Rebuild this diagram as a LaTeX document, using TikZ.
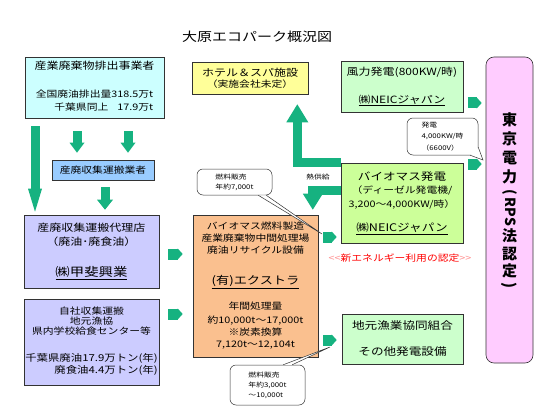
\documentclass[tikz,border=0pt]{standalone}
\usepackage{fontspec}
\setmainfont{Noto Sans CJK JP}[FakeStretch=1.2]
\newfontfamily\tatefont{Noto Sans CJK JP}
\usetikzlibrary{arrows.meta}

\definecolor{arrowgreen}{RGB}{22,178,128}
\definecolor{srccyan}{RGB}{204,255,255}
\definecolor{haulblue}{RGB}{153,204,255}
\definecolor{agentlilac}{RGB}{204,204,255}
\definecolor{plantorange}{RGB}{250,192,143}
\definecolor{windmint}{RGB}{204,255,204}
\definecolor{biolime}{RGB}{204,255,153}
\definecolor{hotelyellow}{RGB}{255,255,153}
\definecolor{tepcopink}{RGB}{255,204,255}

\begin{document}
\begin{tikzpicture}[x=1pt,y=-1pt,
    panel/.style={draw=black!80,line width=0.6pt,inner sep=0pt,align=center},
    bubble/.style={draw=black!80,line width=0.5pt,fill=white,rounded corners=6pt,inner sep=0pt,align=left},
    tail/.style={draw=black!80,line width=0.5pt,fill=white},
    tate/.style={font=\tatefont\bfseries\fontsize{15}{16}\selectfont,inner sep=0pt},
    flow/.style n args={3}{draw=arrowgreen,line width=#1,-{Triangle[width=#2,length=#3,line width=0pt]}},
    chevron/.style={flow={11pt}{11pt}{5pt}}]
    \useasboundingbox (0,0) rectangle (560,420);

    \node[font=\fontsize{12.5}{14}\selectfont] (title) at (257,37) {大原エコパーク概況図};

    % left column
    \node[panel,fill=srccyan,minimum width=139pt,minimum height=61pt,font=\fontsize{10}{13}\selectfont] (source) at (94.5,87.5)
        {産業廃棄物排出事業者\\[15pt]{\fontsize{9}{13}\selectfont\begin{tabular}[t]{@{}r@{}}全国廃油排出量318.5万t\\千葉県同上\quad17.9万t\end{tabular}}};
    \node[panel,fill=haulblue,minimum width=102pt,minimum height=20pt,font=\fontsize{9}{11}\selectfont] (haul) at (103,170) {産廃収集運搬業者};
    \node[panel,fill=agentlilac,minimum width=135pt,minimum height=73pt,font=\fontsize{10}{14}\selectfont] (agent) at (91.5,251.5)
        {産廃収集運搬代理店\\（廃油･廃食油）\\[17pt]{\fontsize{12}{14}\selectfont\underline{㈱甲斐興業}}};
    \node[panel,fill=agentlilac,minimum width=135pt,minimum height=86pt,font=\fontsize{9}{10}\selectfont] (own) at (91.5,342)
        {自社収集運搬\\地元漁協\\県内学校給食センター等\\[17pt]{\fontsize{9.5}{12}\selectfont\begin{tabular}[t]{@{}r@{}}千葉県廃油17.9万トン(年)\\廃食油4.4万トン(年)\end{tabular}}};

    % middle column
    \node[panel,fill=hotelyellow,minimum width=116pt,minimum height=32pt,font=\fontsize{10}{11}\selectfont] (hotel) at (250,78)
        {ホテル＆スパ施設\\{\fontsize{9}{11}\selectfont（実施会社未定）}};
    \node[panel,fill=plantorange,minimum width=125pt,minimum height=142pt,font=\fontsize{9}{12}\selectfont] (plant) at (255.5,286)
        {バイオマス燃料製造\\産業廃棄物中間処理場\\廃油リサイクル設備\\[19pt]{\fontsize{11}{12}\selectfont\underline{(有)エクストラ}}\\[13pt]年間処理量\\[2pt]約10,000t～17,000t\\※炭素換算\\7,120t～12,104t};

    % right column
    \node[panel,fill=windmint,minimum width=122pt,minimum height=51pt,font=\fontsize{10}{13}\selectfont] (wind) at (402,86.5)
        {風力発電(800KW/時)\\[15pt]\underline{㈱NEICジャパン}};
    \node[panel,fill=biolime,minimum width=122pt,minimum height=80pt,font=\fontsize{9}{13.5}\selectfont] (bio) at (402,203)
        {{\fontsize{10.5}{13.5}\selectfont バイオマス発電}\\（ディーゼル発電機/\\3,200～4,000KW/時）\\[11pt]{\fontsize{10.5}{12}\selectfont\underline{㈱NEICジャパン}}};
    \node[panel,fill=windmint,minimum width=121pt,minimum height=50pt,font=\fontsize{10.5}{13}\selectfont] (fish) at (402.5,339)
        {地元漁業協同組合\\[13pt]その他発電設備};
    \node[font=\fontsize{9}{10}\selectfont,text=red] (nefLabel) at (400,258)
        {\textcolor{red!45}{<\kern0pt<}新エネルギー利用の認定\textcolor{red!45}{>\kern0pt>}};

    \node[panel,fill=tepcopink,rounded corners=8pt,minimum width=47pt,minimum height=306pt] (tepco) at (509.5,210) {};
    \foreach \ch/\y in {東/120,京/139,電/158,力/177,法/236,認/254,定/271}
        \node[tate] (tepco\y) at (509.5,\y) {\ch};
    \node[tate,font=\tatefont\bfseries\fontsize{14}{15}\selectfont,rotate=-90] (tepcoRps) at (509.5,208) {(\,RPS};
    \node[tate,rotate=-90] (tepcoClose) at (509.5,285) {)};

    % green arrows
    \begin{scope}
        \draw[flow={9pt}{14pt}{23pt},shorten <=8pt,shorten >=3pt] ([xshift=-59.5pt]source.south) -- ([xshift=-56.5pt]agent.north);
        \draw[flow={9pt}{15pt}{10pt},shorten <=13pt,shorten >=7pt] ([xshift=-17.5pt]source.south) -- ([xshift=-26pt]haul.north);
        \draw[flow={9pt}{15pt}{10pt},shorten <=13pt,shorten >=7pt] ([xshift=33.5pt]source.south) -- ([xshift=25pt]haul.north);
        \draw[flow={9pt}{16pt}{10pt},shorten <=7pt,shorten >=5pt] ([xshift=2pt]haul.south) -- ([xshift=13.5pt]agent.north);

        \draw[chevron,shorten <=9pt,shorten >=10pt] ([yshift=-2.5pt]agent.east) -- ([yshift=32pt]plant.west);
        \draw[chevron,shorten <=9pt,shorten >=10pt] ([yshift=28pt]own.east) -- ([yshift=-28pt]plant.west);
        \draw[chevron,shorten <=5pt,shorten >=4pt] ([yshift=49pt]plant.east) -- ([yshift=-34pt]bio.west);
        \draw[chevron,shorten <=5pt,shorten >=5pt] ([yshift=-54pt]plant.east) -- ([yshift=-1pt]fish.west);
        \draw[chevron,shorten <=5pt,shorten >=4pt] ([yshift=-16.5pt]wind.east) -- ([yshift=107pt]tepco.west);
        \draw[chevron,shorten <=5pt,shorten >=4pt] ([yshift=39pt]bio.east) -- ([yshift=46pt]tepco.west);

        \draw[flow={9pt}{22pt}{18pt}] ([yshift=0.5pt]bio.north west) -| ([xshift=-11pt,yshift=-10pt]hotel.south east);
        \draw[flow={9pt}{20pt}{16pt}] ([yshift=-27.5pt]bio.north west) -| ([xshift=-5.5pt,yshift=5pt]plant.north east);
    \end{scope}
    \node[font=\fontsize{6.5}{8}\selectfont] (heatLabel) at (318,177) {熱供給};

    % callouts
    \node[bubble,minimum width=75pt,minimum height=26pt,font=\fontsize{6.5}{10}\selectfont] (fuelTop) at (234.5,182) {燃料販売\\年約7,000t};
    \coordinate (fuelTopTip) at (322,234);
    \draw[tail] ([xshift=-14pt]fuelTop.south east) -- (fuelTopTip) -- ([xshift=-6pt]fuelTop.south east);

    \node[bubble,minimum width=75pt,minimum height=40pt,font=\fontsize{6.5}{10}\selectfont] (fuelLow) at (267.5,385) {燃料販売\\年約3,000t\\～10,000t};
    \coordinate (fuelLowTip) at (330,347);
    \draw[tail] ([xshift=-22pt]fuelLow.north east) -- (fuelLowTip) -- ([xshift=-13pt]fuelLow.north east);

    \node[bubble,minimum width=71pt,minimum height=37pt,font=\fontsize{6.5}{11.5}\selectfont] (sale) at (442.5,136.5) {発電\\4,000KW/時\\（6600V）};
    \coordinate (saleTip) at (483,160);
    \draw[tail] ([xshift=-8pt]sale.south east) -- (saleTip) -- ([yshift=8pt]sale.south east);
\end{tikzpicture}
\end{document}
